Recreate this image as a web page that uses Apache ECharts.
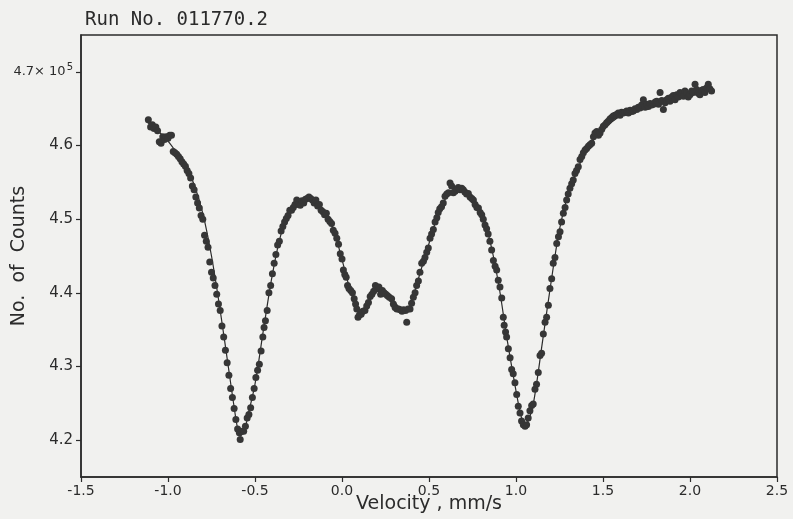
<!DOCTYPE html>
<html>
<head>
<meta charset="utf-8">
<script src="https://cdn.jsdelivr.net/npm/echarts@6/dist/echarts.min.js"></script>
<style>
  html, body { margin: 0; padding: 0; background: #f1f1ef; }
  #chart { width: 793px; height: 519px; }
</style>
</head>
<body>
<div id="chart"></div>
<script>
// measured points (velocity in mm/s, counts in units of 10^5)
const velocity = [
  -1.113, -1.100, -1.090, -1.080, -1.070, -1.060, -1.050, -1.040, -1.030, -1.020,
  -1.010, -1.000, -0.990, -0.980, -0.970, -0.960, -0.950, -0.940, -0.930, -0.920,
  -0.910, -0.900, -0.890, -0.880, -0.870, -0.860, -0.850, -0.840, -0.830, -0.820,
  -0.810, -0.800, -0.790, -0.780, -0.770, -0.760, -0.750, -0.740, -0.730, -0.720,
  -0.710, -0.700, -0.690, -0.680, -0.670, -0.660, -0.650, -0.640, -0.630, -0.620,
  -0.610, -0.600, -0.590, -0.585, -0.575, -0.565, -0.555, -0.545, -0.535, -0.525,
  -0.515, -0.505, -0.495, -0.485, -0.475, -0.465, -0.455, -0.448, -0.440, -0.430,
  -0.420, -0.410, -0.400, -0.390, -0.380, -0.370, -0.360, -0.350, -0.340, -0.330,
  -0.320, -0.310, -0.300, -0.290, -0.280, -0.270, -0.260, -0.250, -0.240, -0.230,
  -0.220, -0.210, -0.200, -0.190, -0.180, -0.170, -0.160, -0.150, -0.140, -0.130,
  -0.120, -0.110, -0.100, -0.090, -0.080, -0.070, -0.060, -0.050, -0.040, -0.030,
  -0.020, -0.010, 0.000, 0.008, 0.016, 0.024, 0.032, 0.040, 0.050, 0.060,
  0.070, 0.078, 0.085, 0.092, 0.100, 0.110, 0.120, 0.132, 0.142, 0.152,
  0.162, 0.172, 0.182, 0.192, 0.202, 0.212, 0.222, 0.232, 0.242, 0.252,
  0.262, 0.272, 0.285, 0.295, 0.305, 0.315, 0.325, 0.335, 0.345, 0.355,
  0.365, 0.372, 0.380, 0.391, 0.400, 0.410, 0.420, 0.429, 0.439, 0.448,
  0.458, 0.468, 0.477, 0.487, 0.496, 0.506, 0.515, 0.525, 0.535, 0.545,
  0.553, 0.562, 0.572, 0.582, 0.592, 0.602, 0.612, 0.621, 0.630, 0.640,
  0.650, 0.660, 0.668, 0.678, 0.688, 0.697, 0.706, 0.716, 0.726, 0.736,
  0.746, 0.755, 0.765, 0.775, 0.784, 0.794, 0.803, 0.812, 0.822, 0.831,
  0.840, 0.850, 0.860, 0.870, 0.880, 0.889, 0.898, 0.908, 0.918, 0.927,
  0.932, 0.940, 0.946, 0.956, 0.966, 0.975, 0.984, 0.994, 1.004, 1.013,
  1.023, 1.032, 1.042, 1.052, 1.061, 1.070, 1.080, 1.090, 1.099, 1.109,
  1.118, 1.128, 1.138, 1.147, 1.157, 1.167, 1.176, 1.186, 1.195, 1.205,
  1.214, 1.224, 1.234, 1.244, 1.253, 1.262, 1.272, 1.282, 1.291, 1.300,
  1.310, 1.320, 1.329, 1.339, 1.348, 1.358, 1.368, 1.378, 1.387, 1.397,
  1.406, 1.416, 1.425, 1.435, 1.445, 1.454, 1.464, 1.474, 1.483, 1.493,
  1.502, 1.512, 1.521, 1.530, 1.540, 1.550, 1.559, 1.569, 1.578, 1.588,
  1.598, 1.607, 1.617, 1.627, 1.636, 1.646, 1.656, 1.665, 1.674, 1.684,
  1.694, 1.703, 1.713, 1.722, 1.732, 1.742, 1.752, 1.761, 1.771, 1.780,
  1.790, 1.800, 1.809, 1.819, 1.828, 1.838, 1.847, 1.857, 1.866, 1.876,
  1.885, 1.895, 1.904, 1.914, 1.924, 1.933, 1.943, 1.952, 1.962, 1.971,
  1.981, 1.990, 2.000, 2.010, 2.019, 2.029, 2.038, 2.048, 2.057, 2.067,
  2.076, 2.086, 2.095, 2.105, 2.114, 2.124
]
const counts = [
  4.635, 4.625, 4.628, 4.623, 4.625, 4.620, 4.605, 4.603, 4.612, 4.608,
  4.612, 4.610, 4.614, 4.614, 4.592, 4.590, 4.588, 4.585, 4.582, 4.578,
  4.575, 4.572, 4.566, 4.562, 4.556, 4.545, 4.540, 4.530, 4.522, 4.515,
  4.505, 4.500, 4.478, 4.470, 4.462, 4.442, 4.428, 4.420, 4.410, 4.398,
  4.385, 4.376, 4.355, 4.340, 4.322, 4.305, 4.288, 4.270, 4.258, 4.243,
  4.228, 4.215, 4.210, 4.201, 4.212, 4.212, 4.219, 4.230, 4.235, 4.244,
  4.258, 4.270, 4.285, 4.295, 4.303, 4.321, 4.340, 4.353, 4.362, 4.376,
  4.400, 4.410, 4.426, 4.440, 4.452, 4.465, 4.470, 4.484, 4.490, 4.496,
  4.501, 4.505, 4.512, 4.512, 4.516, 4.520, 4.526, 4.520, 4.519, 4.525,
  4.522, 4.527, 4.528, 4.530, 4.528, 4.526, 4.522, 4.526, 4.518, 4.520,
  4.512, 4.510, 4.506, 4.508, 4.500, 4.497, 4.494, 4.485, 4.481, 4.474,
  4.466, 4.453, 4.446, 4.431, 4.425, 4.421, 4.410, 4.406, 4.403, 4.400,
  4.392, 4.385, 4.378, 4.367, 4.370, 4.371, 4.375, 4.376, 4.382, 4.387,
  4.395, 4.398, 4.402, 4.410, 4.406, 4.408, 4.398, 4.403, 4.400, 4.398,
  4.396, 4.394, 4.392, 4.385, 4.380, 4.378, 4.378, 4.377, 4.375, 4.377,
  4.376, 4.360, 4.378, 4.378, 4.386, 4.394, 4.400, 4.410, 4.416, 4.428,
  4.440, 4.443, 4.448, 4.455, 4.461, 4.474, 4.480, 4.486, 4.496, 4.502,
  4.509, 4.514, 4.517, 4.522, 4.531, 4.534, 4.536, 4.549, 4.545, 4.536,
  4.538, 4.541, 4.543, 4.540, 4.542, 4.540, 4.537, 4.534, 4.535, 4.530,
  4.528, 4.526, 4.520, 4.516, 4.515, 4.509, 4.506, 4.500, 4.492, 4.487,
  4.480, 4.470, 4.458, 4.444, 4.436, 4.431, 4.417, 4.408, 4.393, 4.367,
  4.356, 4.347, 4.340, 4.324, 4.312, 4.296, 4.290, 4.278, 4.262, 4.246,
  4.237, 4.226, 4.221, 4.219, 4.221, 4.230, 4.240, 4.247, 4.249, 4.269,
  4.276, 4.292, 4.315, 4.318, 4.344, 4.360, 4.367, 4.383, 4.406, 4.419,
  4.440, 4.448, 4.467, 4.476, 4.483, 4.496, 4.508, 4.516, 4.526, 4.534,
  4.542, 4.548, 4.553, 4.562, 4.566, 4.571, 4.581, 4.585, 4.590, 4.594,
  4.596, 4.599, 4.601, 4.603, 4.612, 4.617, 4.619, 4.614, 4.617, 4.622,
  4.626, 4.628, 4.631, 4.633, 4.636, 4.638, 4.640, 4.641, 4.642, 4.644,
  4.641, 4.645, 4.644, 4.645, 4.647, 4.644, 4.648, 4.646, 4.647, 4.650,
  4.649, 4.652, 4.651, 4.655, 4.662, 4.652, 4.656, 4.653, 4.657, 4.655,
  4.656, 4.659, 4.660, 4.656, 4.672, 4.661, 4.649, 4.658, 4.662, 4.664,
  4.660, 4.666, 4.668, 4.662, 4.669, 4.666, 4.672, 4.670, 4.667, 4.674,
  4.671, 4.666, 4.669, 4.674, 4.672, 4.683, 4.676, 4.671, 4.669, 4.675,
  4.676, 4.672, 4.678, 4.683, 4.677, 4.674
]

// fitted curve
const fitVelocity = [
  -1.12, -1.10, -1.05, -1.00, -0.95, -0.90, -0.85, -0.80, -0.75, -0.70,
  -0.65, -0.62, -0.60, -0.585, -0.56, -0.54, -0.50, -0.45, -0.40, -0.35,
  -0.30, -0.25, -0.20, -0.15, -0.10, -0.05, 0.00, 0.05, 0.10, 0.13,
  0.15, 0.20, 0.25, 0.30, 0.35, 0.38, 0.40, 0.45, 0.50, 0.55,
  0.60, 0.65, 0.70, 0.75, 0.80, 0.85, 0.90, 0.95, 1.00, 1.03,
  1.05, 1.07, 1.10, 1.15, 1.20, 1.25, 1.30, 1.35, 1.40, 1.45,
  1.50, 1.60, 1.70, 1.80, 1.90, 2.00, 2.12
]
const fitCounts = [
  4.632, 4.628, 4.618, 4.606, 4.590, 4.572, 4.547, 4.508, 4.450, 4.376,
  4.294, 4.245, 4.216, 4.206, 4.214, 4.234, 4.276, 4.352, 4.425, 4.480,
  4.510, 4.524, 4.528, 4.524, 4.511, 4.487, 4.445, 4.402, 4.375, 4.377,
  4.385, 4.402, 4.400, 4.388, 4.377, 4.379, 4.388, 4.428, 4.467, 4.505,
  4.530, 4.540, 4.541, 4.530, 4.509, 4.471, 4.412, 4.335, 4.267, 4.232,
  4.222, 4.226, 4.250, 4.330, 4.412, 4.486, 4.535, 4.566, 4.591, 4.609,
  4.622, 4.640, 4.651, 4.658, 4.664, 4.669, 4.675
]

const xTicks = [-1.5, -1.0, -0.5, 0.0, 0.5, 1.0, 1.5, 2.0, 2.5]
const yTicks = [4.2, 4.3, 4.4, 4.5, 4.6, 4.7]
const yTickLabels = ['4.2', '4.3', '4.4', '4.5', '4.6', '{m|4.7× 10}{sup|5}']

const ink = '#2b2b2b'
const chart = echarts.init(document.getElementById('chart'))

chart.setOption({
  backgroundColor: '#f1f1ef',
  animation: false,
  title: {
    text: 'Run No. 011770.2',
    left: 80,
    top: 6,
    textStyle: { fontFamily: 'DejaVu Sans Mono', fontSize: 19, fontWeight: 'normal', color: ink },
  },
  grid: {
    left: 81, right: 16, top: 35, bottom: 42,
    containLabel: false,
    outerBoundsMode: 'none',
    show: true, borderColor: ink, borderWidth: 1.5, backgroundColor: 'transparent',
  },
  xAxis: {
    type: 'value',
    min: -1.5,
    max: 2.5,
    interval: 0.5,
    name: 'Velocity , mm/s',
    nameLocation: 'middle',
    nameGap: 18,
    nameMoveOverlap: false,
    nameTextStyle: { fontFamily: 'DejaVu Sans', fontSize: 19, color: ink },
    axisLine: { show: true, onZero: false, lineStyle: { color: ink, width: 1.5 } },
    axisTick: { show: true, length: 5, lineStyle: { color: ink, width: 1.2 } },
    axisLabel: {
      fontFamily: 'DejaVu Sans', fontSize: 14, color: ink, margin: 7,
      showMinLabel: true, showMaxLabel: true,
      formatter: v => (xTicks.includes(v) ? v.toFixed(1) : ''),
    },
    splitLine: { show: false },
  },
  yAxis: {
    type: 'value',
    min: 4.15,
    max: 4.75,
    name: 'No.  of  Counts',
    nameLocation: 'middle',
    nameRotate: 90,
    nameGap: 52,
    nameMoveOverlap: false,
    nameTextStyle: { fontFamily: 'DejaVu Sans', fontSize: 19, color: ink },
    axisLine: { show: true, onZero: false, lineStyle: { color: ink, width: 1.5 } },
    axisTick: { show: true, length: 5, customValues: yTicks, lineStyle: { color: ink, width: 1.2 } },
    axisLabel: {
      fontFamily: 'DejaVu Sans', fontSize: 15, color: ink, margin: 8,
      customValues: yTicks,
      formatter: v => yTickLabels[yTicks.findIndex(t => Math.abs(t - v) < 1e-6)] || '',
      rich: {
        m: { fontFamily: 'DejaVu Sans', fontSize: 13, color: ink },
        sup: { fontFamily: 'DejaVu Sans', fontSize: 10, color: ink, verticalAlign: 'bottom', padding: [0, 0, 8, 1] },
      },
    },
    splitLine: { show: false },
  },
  series: [
    {
      type: 'line',
      data: fitVelocity.map((v, i) => [v, fitCounts[i]]),
      showSymbol: false,
      smooth: 0.35,
      lineStyle: { color: ink, width: 1.2 },
      z: 2,
    },
    {
      type: 'scatter',
      data: velocity.map((v, i) => [v, counts[i]]),
      symbol: 'circle',
      symbolSize: 7,
      itemStyle: { color: '#363636', opacity: 1 },
      z: 3,
    },
  ],
})
</script>
</body>
</html>
